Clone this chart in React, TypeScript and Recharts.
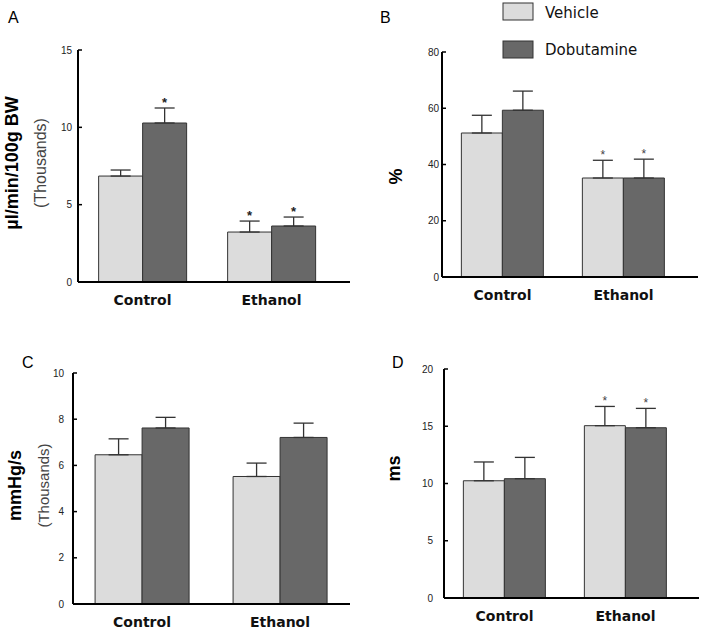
import React from 'react';
import { BarChart, Bar, XAxis, YAxis, ErrorBar, Label, Rectangle } from 'recharts';

const categories = ['Control', 'Ethanol'];
const seriesNames = ['Vehicle', 'Dobutamine'];
const seriesFills = ['#dcdcdc', '#686868'];

// A: blood flow, thousands of µl/min/100g BW
const flowVehicle = [6.85, 3.23];
const flowDobutamine = [10.28, 3.62];
const flowVehicleSem = [0.39, 0.71];
const flowDobutamineSem = [0.97, 0.58];
const flowVehicleSig = [false, true];
const flowDobutamineSig = [true, true];
const flowTicks = [0, 5, 10, 15];

// B: percent
const pctVehicle = [51.2, 35.2];
const pctDobutamine = [59.3, 35.2];
const pctVehicleSem = [6.3, 6.3];
const pctDobutamineSem = [6.8, 6.7];
const pctVehicleSig = [false, true];
const pctDobutamineSig = [false, true];
const pctTicks = [0, 20, 40, 60, 80];

// C: dP/dt, thousands of mmHg/s
const dpdtVehicle = [6.46, 5.52];
const dpdtDobutamine = [7.62, 7.21];
const dpdtVehicleSem = [0.69, 0.58];
const dpdtDobutamineSem = [0.46, 0.62];
const dpdtVehicleSig = [false, false];
const dpdtDobutamineSig = [false, false];
const dpdtTicks = [0, 2, 4, 6, 8, 10];

// D: time, ms
const msVehicle = [10.24, 15.05];
const msDobutamine = [10.42, 14.87];
const msVehicleSem = [1.64, 1.68];
const msDobutamineSem = [1.86, 1.69];
const msVehicleSig = [false, true];
const msDobutamineSig = [false, true];
const msTicks = [0, 5, 10, 15, 20];

const buildRows = (veh: number[], dob: number[], vehErr: number[], dobErr: number[], vehSig: boolean[], dobSig: boolean[]) =>
  categories.map((name, i) => ({
    name,
    vehicle: veh[i],
    dobutamine: dob[i],
    vehicleErr: [0, vehErr[i]],
    dobutamineErr: [0, dobErr[i]],
    vehicleSig: vehSig[i],
    dobutamineSig: dobSig[i],
  }));

const SANS = 'Liberation Sans, Arial, sans-serif';
const WIDE = 'DejaVu Sans, sans-serif';

const starBar = (dataKey: string, boldStar: boolean) => (props: any) => {
  const { x, y, width, height, fill, stroke, payload } = props;
  const v = payload[dataKey];
  const err = payload[dataKey + 'Err'][1];
  const capY = v ? y - (height / v) * err : y;
  return (
    <g>
      <Rectangle x={x} y={y} width={width} height={height} fill={fill} stroke={stroke} strokeWidth={1} />
      {payload[dataKey + 'Sig'] && (
        <text
          x={x + width / 2}
          y={capY - 1}
          textAnchor="middle"
          fontSize={boldStar ? 13 : 12}
          fontWeight={boldStar ? 'bold' : 'normal'}
          fill={boldStar ? '#222' : '#444'}
          fontFamily={SANS}
        >
          *
        </text>
      )}
    </g>
  );
};

type Title = { text: string; dx: number; bold: boolean; size: number; fill: string };

const yTitle = (titles: Title[], dy: number) => (props: any) => {
  const vb = props.viewBox || {};
  const plotLeft = vb.x + vb.width;
  const cy = vb.y + vb.height / 2 + dy;
  return (
    <g>
      {titles.map((t) => (
        <text
          key={t.text}
          x={plotLeft + t.dx}
          y={cy}
          transform={`rotate(-90, ${plotLeft + t.dx}, ${cy})`}
          textAnchor="middle"
          dominantBaseline="central"
          fontSize={t.size}
          fontWeight={t.bold ? 'bold' : 'normal'}
          fill={t.fill}
          fontFamily={SANS}
        >
          {t.text}
        </text>
      ))}
    </g>
  );
};

interface PanelProps {
  left: number;
  top: number;
  plot: { left: number; top: number; right: number; bottom: number };
  padRight: number;
  data: any[];
  ticks: number[];
  tickMargin: number;
  titles: Title[];
  titleDy: number;
  boldStar: boolean;
}

const W = 351;
const H = 315;

const Panel: React.FC<PanelProps> = ({ left, top, plot, padRight, data, ticks, tickMargin, titles, titleDy, boldStar }) => (
  <div style={{ position: 'absolute', left, top, width: W, height: H }}>
    <BarChart
      width={W}
      height={H}
      data={data}
      margin={{ top: plot.top, right: W - plot.right, bottom: 0, left: 0 }}
      barCategoryGap="16%"
      barGap={0}
    >
      <XAxis
        dataKey="name"
        height={H - plot.bottom}
        padding={{ left: 0, right: padRight }}
        tickLine={false}
        tickSize={0}
        tickMargin={13}
        axisLine={{ stroke: '#000', strokeWidth: 2 }}
        tick={{ fontFamily: WIDE, fontWeight: 'bold', fontSize: 14, fill: '#111' }}
      />
      <YAxis
        width={plot.left}
        domain={[ticks[0], ticks[ticks.length - 1]]}
        ticks={ticks}
        interval={0}
        tickSize={-4}
        tickMargin={tickMargin}
        axisLine={{ stroke: '#000', strokeWidth: 2 }}
        tickLine={{ stroke: '#000', strokeWidth: 1.5 }}
        tick={{ fontFamily: SANS, fontSize: 10, fill: '#222' }}
      >
        <Label content={yTitle(titles, titleDy)} />
      </YAxis>
      <Bar dataKey="vehicle" name={seriesNames[0]} fill={seriesFills[0]} stroke="#333" isAnimationActive={false} shape={starBar('vehicle', boldStar)}>
        <ErrorBar dataKey="vehicleErr" width={10} stroke="#333" strokeWidth={1.3} direction="y" isAnimationActive={false} />
      </Bar>
      <Bar dataKey="dobutamine" name={seriesNames[1]} fill={seriesFills[1]} stroke="#333" isAnimationActive={false} shape={starBar('dobutamine', boldStar)}>
        <ErrorBar dataKey="dobutamineErr" width={10} stroke="#333" strokeWidth={1.3} direction="y" isAnimationActive={false} />
      </Bar>
    </BarChart>
  </div>
);

const panelLetter = (ch: string, x: number, y: number) => (
  <text x={x} y={y} fontSize={16} fontFamily={SANS} fill="#000">
    {ch}
  </text>
);

export default function App() {
  return (
    <div style={{ position: 'absolute', left: 0, top: 0, width: 702, height: 630, background: '#fff' }}>
      <Panel
        left={0}
        top={0}
        plot={{ left: 78, top: 50, right: 350, bottom: 282 }}
        padRight={14}
        data={buildRows(flowVehicle, flowDobutamine, flowVehicleSem, flowDobutamineSem, flowVehicleSig, flowDobutamineSig)}
        ticks={flowTicks}
        tickMargin={10}
        titles={[
          { text: 'µl/min/100g BW', dx: -66, bold: true, size: 18, fill: '#000' },
          { text: '(Thousands)', dx: -38, bold: false, size: 16, fill: '#444' },
        ]}
        titleDy={-3}
        boldStar={true}
      />
      <Panel
        left={351}
        top={0}
        plot={{ left: 91, top: 52, right: 347, bottom: 277 }}
        padRight={14}
        data={buildRows(pctVehicle, pctDobutamine, pctVehicleSem, pctDobutamineSem, pctVehicleSig, pctDobutamineSig)}
        ticks={pctTicks}
        tickMargin={7}
        titles={[{ text: '%', dx: -46, bold: true, size: 18, fill: '#000' }]}
        titleDy={12}
        boldStar={false}
      />
      <Panel
        left={0}
        top={315}
        plot={{ left: 73, top: 58, right: 350, bottom: 289 }}
        padRight={1}
        data={buildRows(dpdtVehicle, dpdtDobutamine, dpdtVehicleSem, dpdtDobutamineSem, dpdtVehicleSig, dpdtDobutamineSig)}
        ticks={dpdtTicks}
        tickMargin={13}
        titles={[
          { text: 'mmHg/s', dx: -58, bold: true, size: 18, fill: '#000' },
          { text: '(Thousands)', dx: -30, bold: false, size: 15, fill: '#444' },
        ]}
        titleDy={-3}
        boldStar={true}
      />
      <Panel
        left={351}
        top={315}
        plot={{ left: 93, top: 54, right: 348, bottom: 283 }}
        padRight={13}
        data={buildRows(msVehicle, msDobutamine, msVehicleSem, msDobutamineSem, msVehicleSig, msDobutamineSig)}
        ticks={msTicks}
        tickMargin={15}
        titles={[{ text: 'ms', dx: -50, bold: true, size: 18, fill: '#000' }]}
        titleDy={-15}
        boldStar={false}
      />
      <svg width={702} height={630} style={{ position: 'absolute', left: 0, top: 0, pointerEvents: 'none' }}>
        {panelLetter('A', 8, 23)}
        {panelLetter('B', 380, 23)}
        {panelLetter('C', 22, 368)}
        {panelLetter('D', 392, 368)}
        {seriesNames.map((name, i) => (
          <g key={name}>
            <rect x={503} y={3 + i * 38} width={30} height={17} fill={seriesFills[i]} stroke="#333" strokeWidth={1} />
            <text x={545} y={18 + i * 37} fontSize={15} fontFamily={WIDE} fill="#111">
              {name}
            </text>
          </g>
        ))}
      </svg>
    </div>
  );
}
